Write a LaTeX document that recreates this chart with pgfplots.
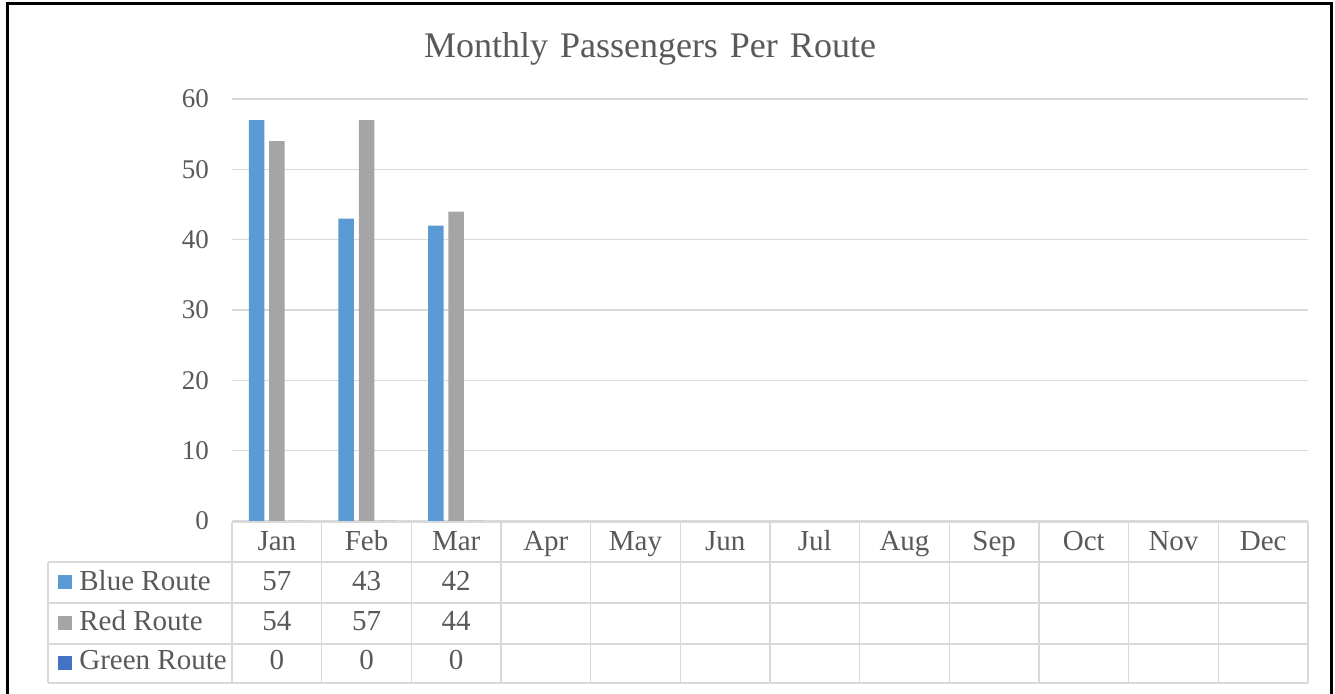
\documentclass[border=0pt]{standalone}
\usepackage{pgfplots}
\pgfplotsset{compat=1.18}
\usepackage{fontspec}
\setmainfont{Liberation Serif}
\definecolor{blueroute}{HTML}{5B9BD5}
\definecolor{redroute}{HTML}{A5A5A5}
\definecolor{greenroute}{HTML}{4472C4}
\definecolor{gridc}{HTML}{D9D9D9}
\definecolor{txt}{HTML}{595959}

\begin{document}
\begin{tikzpicture}
\useasboundingbox (0,0) rectangle (667.5pt,347pt);
\begin{axis}[
  at={(116pt,86.5pt)}, anchor=south west,
  scale only axis, width=538pt, height=211pt,
  xmin=0.5, xmax=12.5, ymin=0, ymax=60,
  ytick={0,10,...,60},
  xtick=\empty,
  ymajorgrids, grid style={gridc, line width=0.75pt},
  axis line style={draw=none},
  major tick length=0pt,
  /pgf/number format/assume math mode=true,
  yticklabel style={font=\fontsize{13.5}{16}\selectfont, text=txt, xshift=-8pt},
  ybar, bar width=7.75pt,
]
% Blue Route
\addplot[fill=blueroute, draw=none, bar shift=-10.15pt] coordinates {(1,57) (2,43) (3,42)};
% Red Route
\addplot[fill=redroute, draw=none, bar shift=0pt] coordinates {(1,54) (2,57) (3,44)};
% Green Route
\addplot[fill=greenroute, draw=none, bar shift=10.15pt] coordinates {(1,0) (2,0) (3,0)};
\end{axis}

\begin{scope}[x=0.5pt, y=0.5pt]
  % title
  \node[anchor=base, inner sep=0pt, text=txt, font=\fontsize{18}{21}\selectfont]
    at (650,636) {Monthly\hspace{1.5pt} Passengers\hspace{1.5pt} Per\hspace{1.5pt} Route};
  % data table grid
  \begin{scope}[draw=gridc, line width=0.75pt]
    \draw (232,172) -- (1308,172);
    \foreach \yy in {132,91,50,11} \draw (48,\yy) -- (1308,\yy);
    \draw (48,132) -- (48,11);
    \foreach \k in {0,...,12} \draw ({232+\k*89.667},172) -- ({232+\k*89.667},11);
  \end{scope}
  \begin{scope}[every node/.style={anchor=base, inner sep=0pt, text=txt, font=\fontsize{14.5}{17}\selectfont}]
    \foreach \m [count=\k] in {Jan,Feb,Mar,Apr,May,Jun,Jul,Aug,Sep,Oct,Nov,Dec}
      \node at ({232+(\k-0.5)*89.667},143) {\m};
    \foreach \v [count=\k] in {57,43,42} \node at ({232+(\k-0.5)*89.667},103) {\v};
    \foreach \v [count=\k] in {54,57,44} \node at ({232+(\k-0.5)*89.667},63) {\v};
    \foreach \v [count=\k] in {0,0,0} \node at ({232+(\k-0.5)*89.667},24) {\v};
    \fill[blueroute] (58,105) rectangle (72,119);
    \fill[redroute] (58,64) rectangle (72,78);
    \fill[greenroute] (58,24) rectangle (72,38);
    \node[anchor=base west] at (79,103) {Blue Route};
    \node[anchor=base west] at (79,63) {Red Route};
    \node[anchor=base west] at (79,24) {Green Route};
  \end{scope}
  % chart frame
  \draw[black, line width=1.5pt] (7,-5) -- (7,690) -- (1331,690) -- (1331,-5);
\end{scope}
\end{tikzpicture}
\end{document}
